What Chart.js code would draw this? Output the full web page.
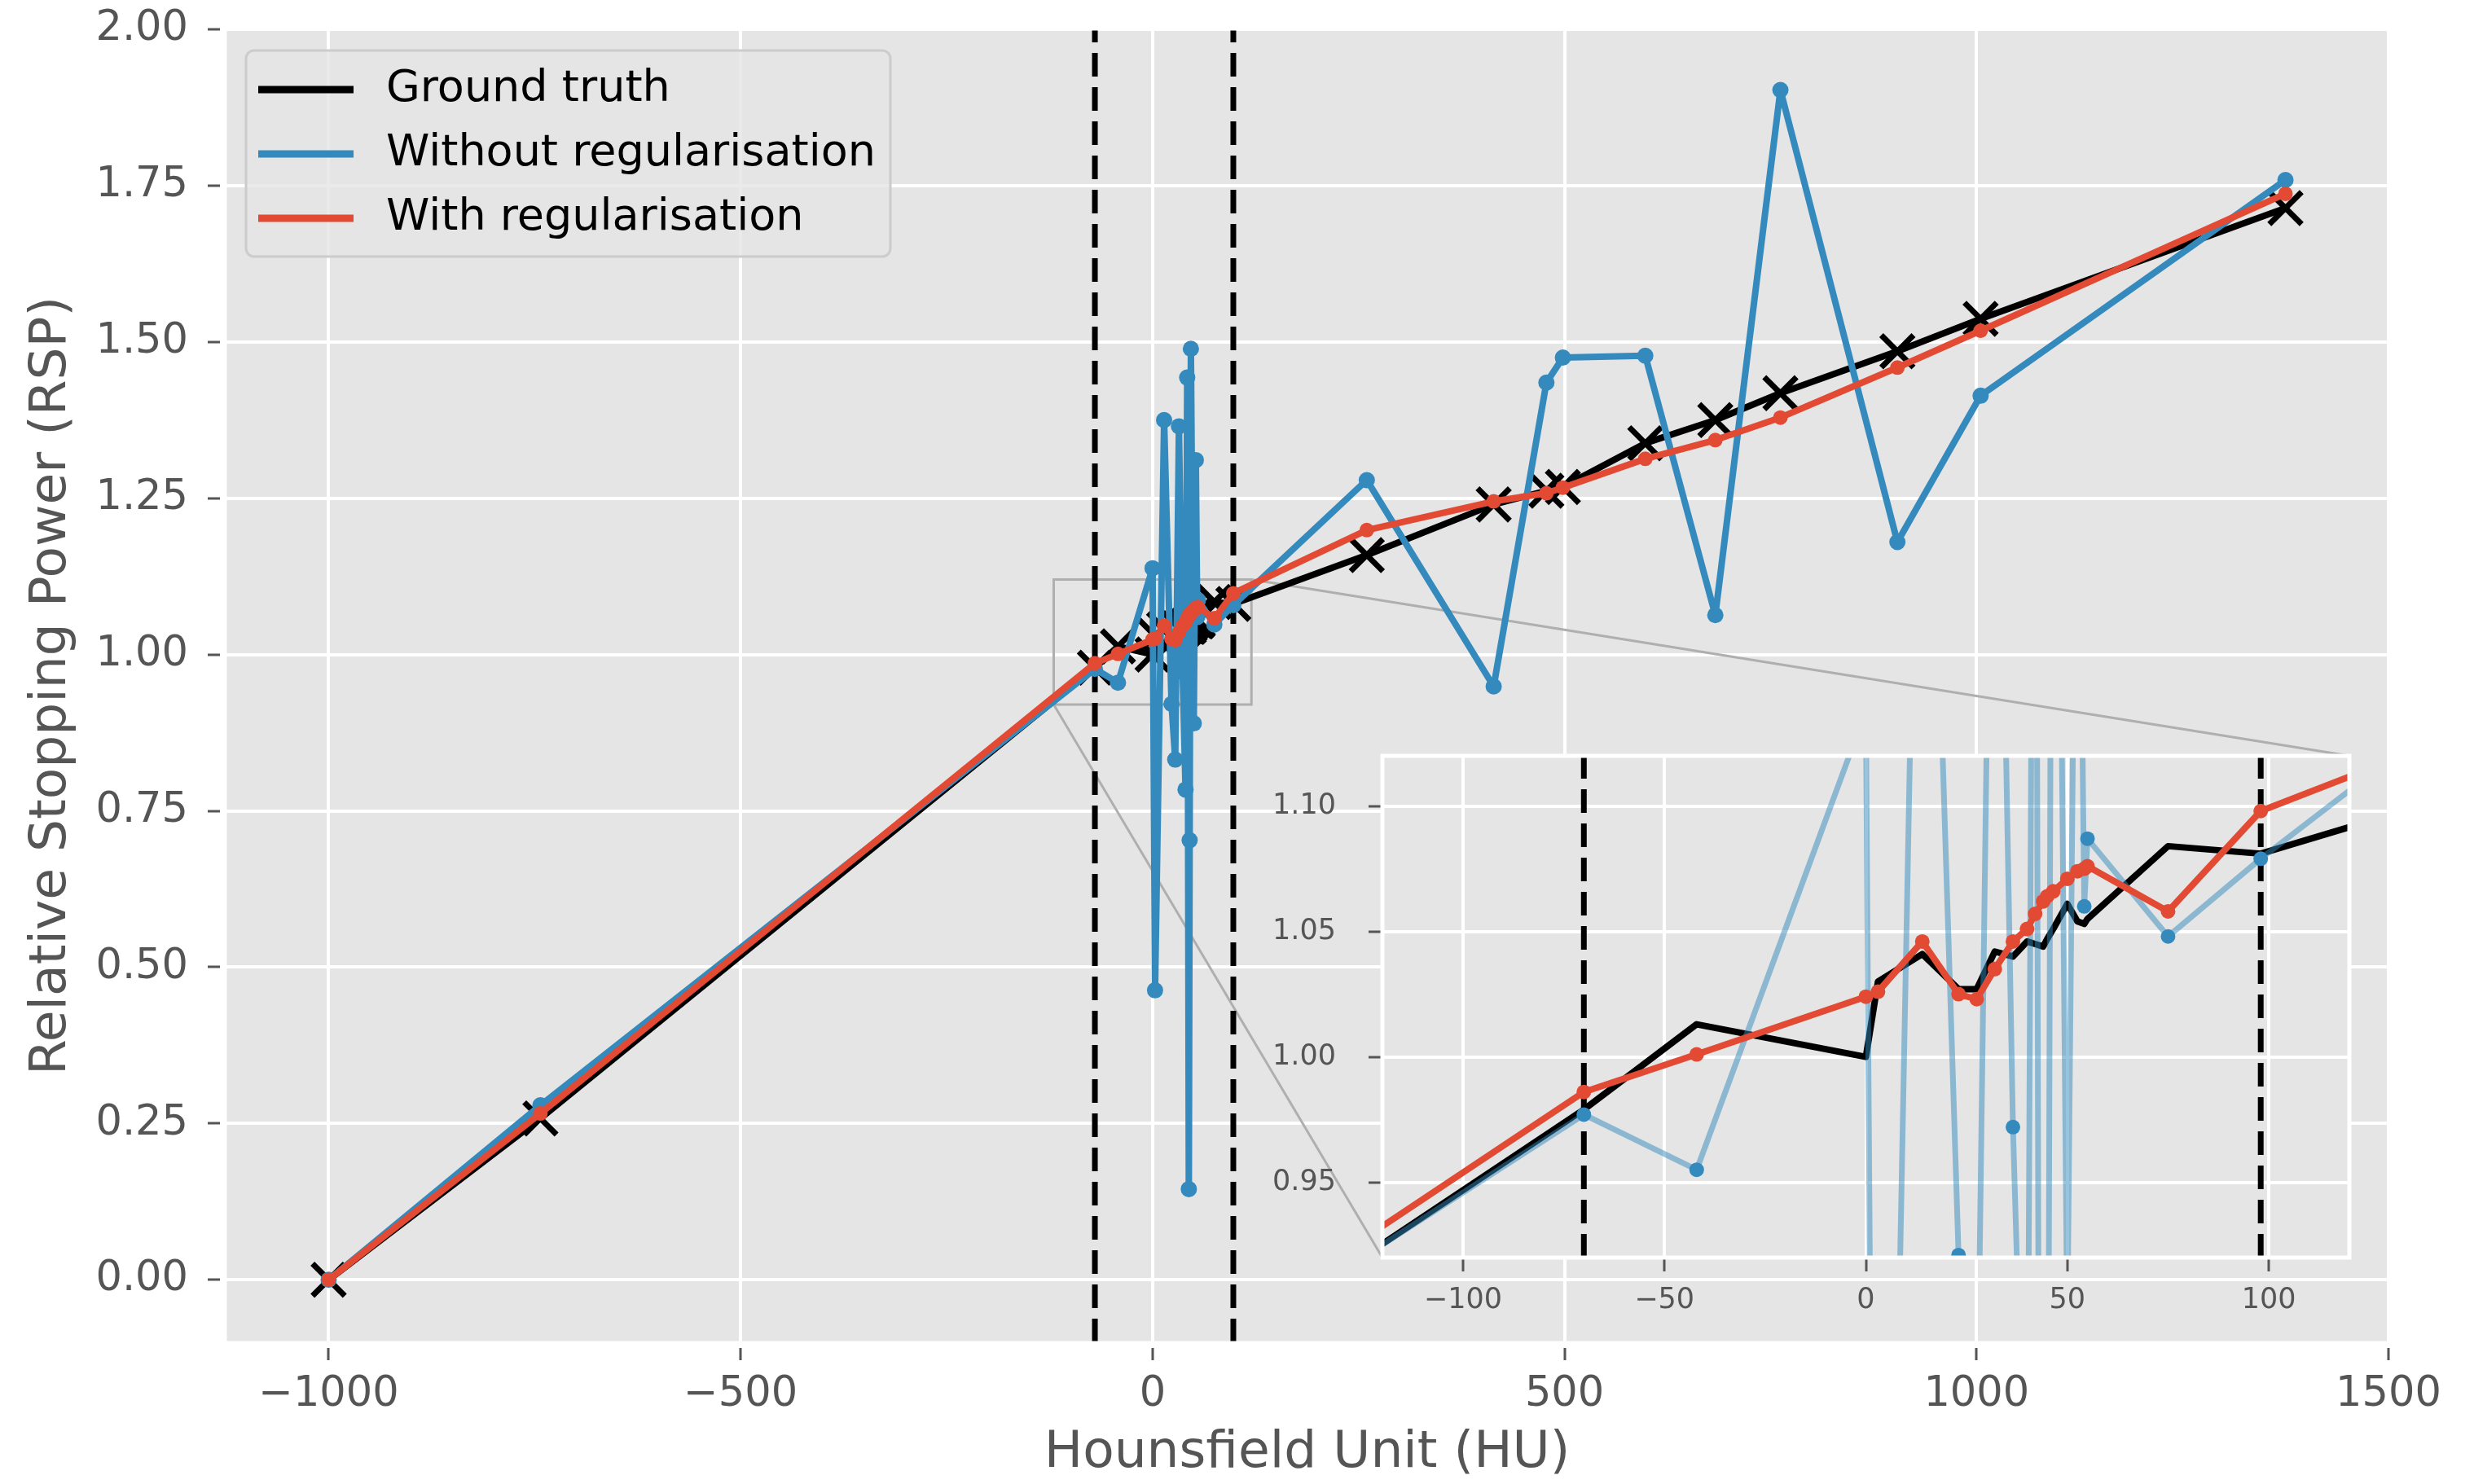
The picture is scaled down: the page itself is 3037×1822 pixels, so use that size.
<!DOCTYPE html>
<html>
<head>
<meta charset="utf-8">
<script src="https://cdn.jsdelivr.net/npm/chart.js@4.4.1/dist/chart.umd.min.js"></script>
<style>
  html, body { margin: 0; padding: 0; background: #ffffff; }
  #wrap { position: relative; width: 3037px; height: 1822px; }
  #main { position: absolute; left: 0; top: 0; }
  #inset { position: absolute; }
</style>
</head>
<body>
<div id="wrap">
  <canvas id="main" width="3037" height="1822"></canvas>
  <canvas id="inset"></canvas>
</div>
<script>
// HU sample points, shared by all three curves
var hu = [-1000, -743, -70, -42, 0, 3, 14, 23, 27.5,
          32, 36.5, 40, 42, 44, 45, 46.5, 50, 52.5, 54.2,
          55, 75, 98, 260, 414, 478, 498, 598,
          683, 762, 904, 1005, 1375];

var groundTruth = [0.000, 0.258, 0.979, 1.013, 1.000, 1.030, 1.041, 1.027, 1.027,
                   1.042, 1.040, 1.046, 1.045, 1.044, 1.047, 1.051, 1.061, 1.054, 1.053,
                   1.055, 1.084, 1.081, 1.159, 1.240, 1.262, 1.268, 1.338,
                   1.375, 1.418, 1.485, 1.537, 1.714];

var withoutReg = [0.000, 0.279, 0.977, 0.955, 1.138, 0.463, 1.375, 0.921, 0.832,
                  1.365, 0.972, 0.784, 1.443, 0.145, 0.703, 1.489, 0.890, 1.311, 1.060,
                  1.087, 1.048, 1.079, 1.279, 0.949, 1.435, 1.475, 1.478,
                  1.063, 1.903, 1.180, 1.414, 1.759];

var withReg = [0.000, 0.266, 0.986, 1.001, 1.024, 1.026, 1.046, 1.025, 1.023,
               1.035, 1.046, 1.051, 1.057, 1.062, 1.064, 1.066, 1.071, 1.074, 1.075,
               1.076, 1.058, 1.098, 1.199, 1.245, 1.258, 1.267, 1.313,
               1.343, 1.379, 1.459, 1.518, 1.737];

// soft-tissue window boundaries (dashed)
var thresholds = [-70, 98];

var xTicks = [-1000, -500, 0, 500, 1000, 1500];
var yTicks = [0, 0.25, 0.5, 0.75, 1, 1.25, 1.5, 1.75, 2];
var xRange = [-1125, 1500];
var yRange = [-0.1, 2.0];

// zoomed region
var insetXTicks = [-100, -50, 0, 50, 100];
var insetYTicks = [0.95, 1.00, 1.05, 1.10];
var insetX = [-120, 120];
var insetY = [0.92, 1.12];

var legendLabels = ['Ground truth', 'Without regularisation', 'With regularisation'];

var FONT = '"DejaVu Sans", sans-serif';
var TEXT = '#555555';
var BG = '#E5E5E5';
var RED = '#E24A33';
var BLUE = '#348ABD';
var BLUE_FADED = 'rgba(52,138,189,0.5)';
var EDGE = '#afafaf';

// where the inset sits, as fractions of the main plot area
var insetFrac = { left: 0.5348, right: 0.982, top: 0.5533, bottom: 0.9355 };

function pts(ys) {
    return hu.map(function(x, i) { return { x: x, y: ys[i] }; });
}
function vline(x, range) {
    return [{ x: x, y: range[0] }, { x: x, y: range[1] }];
}
function fmtInt(v) {
    return String(v).replace('-', '\u2212');
}

function insetBox(area) {
    var w = area.right - area.left, h = area.bottom - area.top;
    return {
        left: Math.round(area.left + insetFrac.left * w),
        right: Math.round(area.left + insetFrac.right * w),
        top: Math.round(area.top + insetFrac.top * h),
        bottom: Math.round(area.top + insetFrac.bottom * h)
    };
}

/* grey panel behind the data, white frame round it */
function panelPlugin(frameWidth) {
    return {
        id: 'panel',
        beforeDraw: function(chart) {
            var a = chart.chartArea, ctx = chart.ctx;
            ctx.save();
            ctx.fillStyle = BG;
            ctx.fillRect(a.left, a.top, a.right - a.left, a.bottom - a.top);
            ctx.restore();
        },
        afterDatasetsDraw: function(chart) {
            var a = chart.chartArea, ctx = chart.ctx;
            ctx.save();
            ctx.strokeStyle = '#ffffff';
            ctx.lineWidth = frameWidth;
            ctx.strokeRect(a.left, a.top, a.right - a.left, a.bottom - a.top);
            ctx.restore();
        }
    };
}

/* box round the zoomed region and the two lines out to the inset */
var zoomMarks = {
    id: 'zoomMarks',
    beforeDatasetsDraw: function(chart) {
        var xs = chart.scales.x, ys = chart.scales.y, ctx = chart.ctx;
        var x0 = xs.getPixelForValue(insetX[0]), x1 = xs.getPixelForValue(insetX[1]);
        var y0 = ys.getPixelForValue(insetY[0]), y1 = ys.getPixelForValue(insetY[1]);
        var box = insetBox(chart.chartArea);
        ctx.save();
        ctx.strokeStyle = EDGE;
        ctx.lineWidth = 3;
        ctx.strokeRect(x0, y1, x1 - x0, y0 - y1);
        ctx.beginPath();
        ctx.moveTo(x1, y1); ctx.lineTo(box.right, box.top);
        ctx.moveTo(x0, y0); ctx.lineTo(box.left, box.bottom);
        ctx.stroke();
        ctx.restore();
    }
};

var legendBox = {
    id: 'legendBox',
    afterDraw: function(chart) {
        var a = chart.chartArea, ctx = chart.ctx;
        var bx = a.left + 25, by = a.top + 26, bw = 791, bh = 253, r = 10;
        var colors = ['#000000', BLUE, RED];
        ctx.save();
        ctx.beginPath();
        ctx.moveTo(bx + r, by);
        ctx.arcTo(bx + bw, by, bx + bw, by + bh, r);
        ctx.arcTo(bx + bw, by + bh, bx, by + bh, r);
        ctx.arcTo(bx, by + bh, bx, by, r);
        ctx.arcTo(bx, by, bx + bw, by, r);
        ctx.closePath();
        ctx.fillStyle = 'rgba(229,229,229,0.8)';
        ctx.fill();
        ctx.strokeStyle = '#cccccc';
        ctx.lineWidth = 3;
        ctx.stroke();

        ctx.font = '54px ' + FONT;
        ctx.textBaseline = 'middle';
        ctx.fillStyle = '#000000';
        for (var i = 0; i < legendLabels.length; i++) {
            var y = by + 48 + 79 * i;
            ctx.strokeStyle = colors[i];
            ctx.lineWidth = 9;
            ctx.beginPath();
            ctx.moveTo(bx + 15, y);
            ctx.lineTo(bx + 132, y);
            ctx.stroke();
            ctx.fillText(legendLabels[i], bx + 172, y);
        }
        ctx.restore();
    }
};

function dashedSets(range, order) {
    return thresholds.map(function(t) {
        return {
            data: vline(t, range),
            showLine: true,
            borderColor: '#000000',
            borderWidth: 7,
            borderDash: [29, 13],
            pointRadius: 0,
            clip: 0,
            order: order
        };
    });
}

function axisOpts(o) {
    return {
        type: 'linear',
        position: o.position,
        min: o.range[0],
        max: o.range[1],
        afterBuildTicks: function(s) {
            s.ticks = o.ticks.map(function(v) { return { value: v }; });
        },
        afterFit: function(s) {
            // the layout padding alone places the plot area
            s.paddingTop = s.paddingBottom = s.paddingLeft = s.paddingRight = 0;
            o.fit(s);
        },
        border: { display: false },
        grid: {
            color: '#ffffff',
            lineWidth: 4,
            drawTicks: true,
            tickLength: o.tickLength,
            tickColor: TEXT,
            tickWidth: 3,
            tickBorderDash: o.tickDash
        },
        ticks: {
            autoSkip: false,
            maxRotation: 0,
            color: TEXT,
            padding: o.padding,
            font: { family: FONT, size: o.fontSize },
            callback: o.format
        },
        title: o.title ? {
            display: true,
            text: o.title,
            color: TEXT,
            font: { family: FONT, size: 63 },
            padding: o.titlePadding
        } : { display: false }
    };
}

var common = {
    responsive: false,
    animation: false,
    devicePixelRatio: 1,
    events: [],
    elements: { line: { borderJoinStyle: 'round' } },
    plugins: { legend: { display: false }, tooltip: { enabled: false } }
};

/* ---- main chart ---- */
var mainChart = new Chart(document.getElementById('main'), {
    type: 'scatter',
    data: {
        datasets: [
            {
                data: pts(withReg), showLine: true, borderColor: RED, borderWidth: 8,
                pointRadius: 9, pointBackgroundColor: RED, pointBorderWidth: 0, clip: 0, order: 0
            },
            {
                data: pts(withoutReg), showLine: true, borderColor: BLUE, borderWidth: 8,
                pointRadius: 10, pointBackgroundColor: BLUE, pointBorderWidth: 0, clip: 0, order: 1
            }
        ].concat(dashedSets(yRange, 2)).concat([
            {
                data: pts(groundTruth), showLine: true, borderColor: '#000000', borderWidth: 8,
                pointStyle: 'crossRot', pointRadius: 28, pointBorderColor: '#000000',
                pointBackgroundColor: 'rgba(0,0,0,0)', pointBorderWidth: 7, clip: 0, order: 3
            }
        ])
    },
    options: Object.assign({}, common, {
        layout: { padding: { top: 36, right: 105, left: 0, bottom: 0 } },
        scales: {
            x: axisOpts({
                position: 'bottom', range: xRange, ticks: xTicks,
                fit: function(s) { s.height = 174; },
                tickLength: 22, tickDash: [0, 7, 15, 100], padding: 12, fontSize: 51,
                format: fmtInt,
                title: 'Hounsfield Unit (HU)', titlePadding: { top: 0, bottom: 0 }
            }),
            y: axisOpts({
                position: 'left', range: yRange, ticks: yTicks,
                fit: function(s) { s.width = 277; },
                tickLength: 22, tickDash: [15, 100], padding: 24, fontSize: 51,
                format: function(v) { return v.toFixed(2); },
                title: 'Relative Stopping Power (RSP)', titlePadding: { top: 26, bottom: 0 }
            })
        }
    }),
    plugins: [panelPlugin(3), zoomMarks, legendBox]
});

/* ---- inset, laid over the main plot ---- */
var gutter = { left: 140, right: 10, top: 10, bottom: 80 };
var box = insetBox(mainChart.chartArea);
var insetCanvas = document.getElementById('inset');
insetCanvas.width = box.right - box.left + gutter.left + gutter.right;
insetCanvas.height = box.bottom - box.top + gutter.top + gutter.bottom;
insetCanvas.style.left = (box.left - gutter.left) + 'px';
insetCanvas.style.top = (box.top - gutter.top) + 'px';

new Chart(insetCanvas, {
    type: 'scatter',
    data: {
        datasets: [
            {
                data: pts(withReg), showLine: true, borderColor: RED, borderWidth: 8,
                pointRadius: 9, pointBackgroundColor: RED, pointBorderWidth: 0, clip: 0, order: 0
            },
            {
                data: pts(withoutReg), showLine: true, borderColor: BLUE_FADED, borderWidth: 7,
                pointRadius: 9, pointBackgroundColor: BLUE, pointBorderWidth: 0, clip: 0, order: 1
            }
        ].concat(dashedSets(insetY, 2)).concat([
            {
                data: pts(groundTruth), showLine: true, borderColor: '#000000', borderWidth: 8,
                pointRadius: 0, clip: 0, order: 3
            }
        ])
    },
    options: Object.assign({}, common, {
        layout: { padding: { top: gutter.top, right: gutter.right, left: 0, bottom: 0 } },
        scales: {
            x: axisOpts({
                position: 'bottom', range: insetX, ticks: insetXTicks,
                fit: function(s) { s.height = gutter.bottom; },
                tickLength: 17, tickDash: [], padding: 15, fontSize: 35,
                format: fmtInt
            }),
            y: axisOpts({
                position: 'left', range: insetY, ticks: insetYTicks,
                fit: function(s) { s.width = gutter.left; },
                tickLength: 17, tickDash: [], padding: 40, fontSize: 35,
                format: function(v) { return v.toFixed(2); }
            })
        }
    }),
    plugins: [panelPlugin(5)]
});
</script>
</body>
</html>
